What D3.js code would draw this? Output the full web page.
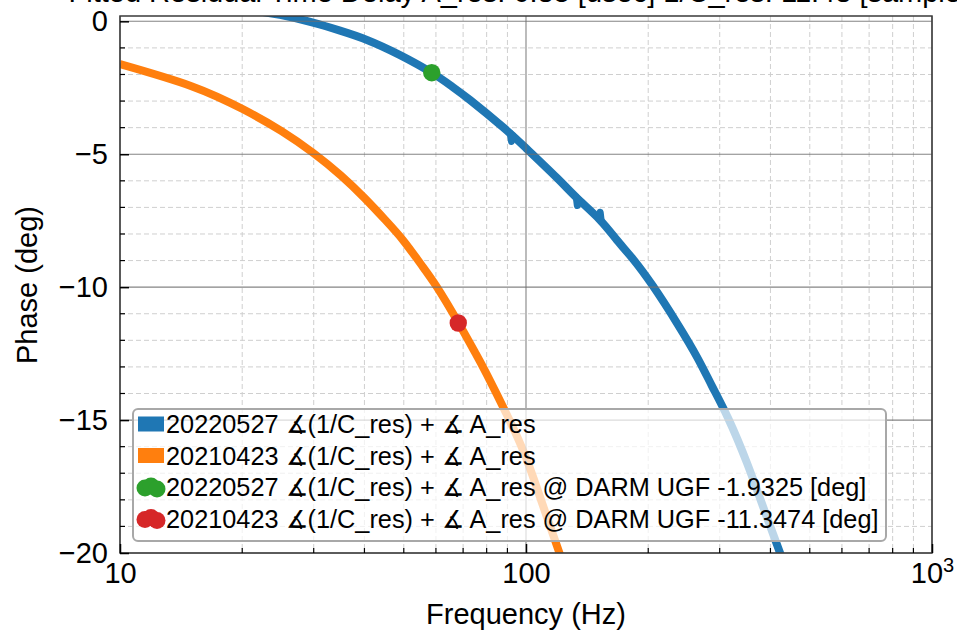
<!DOCTYPE html>
<html>
<head>
<meta charset="utf-8">
<script src="https://cdn.jsdelivr.net/npm/d3@7"></script>
<style>
  html, body { margin: 0; padding: 0; background: #fff; }
  svg { display: block; font-family: "Liberation Sans", Arial, Helvetica, sans-serif; }
</style>
</head>
<body>
<svg id="chart" width="957" height="636"></svg>
<script>
// ---------------- data ----------------
const freqBlue = [21.5, 24.78, 29.88, 34.83, 40.59, 48.95, 58.69, 65.72, 72.8, 87.76, 100,
  119.2, 133.6, 152.1, 167.5, 183.4, 205.5, 235.4, 263.8, 287.2, 314.5, 350.3, 387.9, 422.4, 446.9];
const phaseBlue = [0.39, 0.24, -0.05, -0.35, -0.70, -1.27, -1.94, -2.45, -2.96, -3.98, -4.77,
  -5.89, -6.65, -7.47, -8.23, -8.94, -9.96, -11.35, -12.63, -13.72, -14.92, -16.62, -18.46, -20.0, -21.05];

// small measurement glitches visible on the 20220527 trace
const glitchFreq = [[91.5, 92.1, 92.7], [133.0, 133.8, 134.6], [151.4, 152.3, 153.2]];
const glitchPhase = [[-4.22, -4.52, -4.29], [-6.62, -6.93, -6.70], [-7.43, -7.18, -7.52]];

const freqOrange = [10, 15, 20.1, 25, 29.9, 35, 40.1, 45, 49.9, 55, 60.3, 68.1, 75, 80, 89.6, 99.8, 110, 121.2, 125.5];
const phaseOrange = [-1.61, -2.44, -3.31, -4.13, -4.95, -5.80, -6.66, -7.47, -8.25, -9.12, -9.99, -11.33,
  -12.47, -13.27, -14.78, -16.38, -18.20, -20.05, -20.80];

const ugfFreq = [58.6, 68.1];
const ugfPhase = [-1.9325, -11.3474];

const seriesColors = ["#1f77b4", "#ff7f0e", "#2ca02c", "#d62728"];
const legendLabels = [
  "20220527 \u2221(1/C_res) + \u2221 A_res",
  "20210423 \u2221(1/C_res) + \u2221 A_res",
  "20220527 \u2221(1/C_res) + \u2221 A_res @ DARM UGF -1.9325 [deg]",
  "20210423 \u2221(1/C_res) + \u2221 A_res @ DARM UGF -11.3474 [deg]"
];

const yMajorTicks = [0, -5, -10, -15, -20];
const yMinorTicks = [-1, -2, -3, -4, -6, -7, -8, -9, -11, -12, -13, -14, -16, -17, -18, -19];
const xMajorTicks = [10, 100, 1000];
const xMinorTicks = [20, 30, 40, 50, 60, 70, 80, 90, 200, 300, 400, 500, 600, 700, 800, 900];

const titleText = "Fitted Residual Time Delay  A_res: 6.85 [usec]  1/C_res: 11.48 [samples]";
const xLabel = "Frequency (Hz)";
const yLabel = "Phase (deg)";

// ---------------- layout ----------------
const L = 120, R = 932, T = 16, B = 553;
const svg = d3.select("#chart");

const x = d3.scaleLog().domain([10, 1000]).range([L, R]);
const y = d3.scaleLinear().domain([-20, 0.2]).range([B, T]);

svg.append("defs").append("clipPath").attr("id", "clip")
  .append("rect").attr("x", L).attr("y", T).attr("width", R - L).attr("height", B - T);

// title (mostly cropped off the top, as in the reference)
svg.append("text").attr("x", 526).attr("y", 1.5).attr("text-anchor", "middle")
  .attr("font-size", 29).attr("fill", "#000").text(titleText);

// minor grid (dashed, behind data)
const gMinor = svg.append("g");
gMinor.selectAll("line.yminor").data(yMinorTicks).join("line")
  .attr("x1", L).attr("x2", R).attr("y1", d => y(d)).attr("y2", d => y(d))
  .attr("stroke", "#cfcfcf").attr("stroke-width", 1).attr("stroke-dasharray", "5,3");
gMinor.selectAll("line.xminor").data(xMinorTicks).join("line")
  .attr("y1", T).attr("y2", B).attr("x1", d => x(d)).attr("x2", d => x(d))
  .attr("stroke", "#cfcfcf").attr("stroke-width", 1).attr("stroke-dasharray", "5,3");

// data lines
const smooth = d3.line().x(d => x(d[0])).y(d => y(d[1])).curve(d3.curveNatural);
const straight = d3.line().x(d => x(d[0])).y(d => y(d[1]));
const gData = svg.append("g").attr("clip-path", "url(#clip)");
gData.append("path").datum(d3.zip(freqBlue, phaseBlue)).attr("d", smooth)
  .attr("fill", "none").attr("stroke", seriesColors[0]).attr("stroke-width", 8);
glitchFreq.forEach((fs, i) => {
  gData.append("path").datum(d3.zip(fs, glitchPhase[i])).attr("d", straight)
    .attr("fill", "none").attr("stroke", seriesColors[0]).attr("stroke-width", 7)
    .attr("stroke-linejoin", "round").attr("stroke-linecap", "round");
});
gData.append("path").datum(d3.zip(freqOrange, phaseOrange)).attr("d", smooth)
  .attr("fill", "none").attr("stroke", seriesColors[1]).attr("stroke-width", 8);

// UGF markers
gData.selectAll("circle.ugf").data(d3.zip(ugfFreq, ugfPhase)).join("circle")
  .attr("cx", d => x(d[0])).attr("cy", d => y(d[1])).attr("r", 8.7)
  .attr("fill", (d, i) => seriesColors[2 + i]);

// major grid (solid, drawn over data)
const gMajor = svg.append("g");
gMajor.selectAll("line.ymajor").data(yMajorTicks).join("line")
  .attr("x1", L).attr("x2", R).attr("y1", d => y(d)).attr("y2", d => y(d))
  .attr("stroke", "#6e6e6e").attr("stroke-opacity", 0.85).attr("stroke-width", 1.1);
gMajor.selectAll("line.xmajor").data(xMajorTicks).join("line")
  .attr("y1", T).attr("y2", B).attr("x1", d => x(d)).attr("x2", d => x(d))
  .attr("stroke", "#6e6e6e").attr("stroke-opacity", 0.85).attr("stroke-width", 1.1);

// legend
const lg = svg.append("g");
lg.append("rect").attr("x", 133).attr("y", 409).attr("width", 753).attr("height", 132)
  .attr("rx", 5).attr("ry", 5)
  .attr("fill", "#fff").attr("fill-opacity", 0.7)
  .attr("stroke", "#a8a8a8").attr("stroke-width", 2);
const rowY = [424, 455.5, 487, 518.5];
legendLabels.forEach((lab, i) => {
  const cy = rowY[i];
  if (i < 2) {
    lg.append("rect").attr("x", 138).attr("y", cy - 7.5).attr("width", 26).attr("height", 15)
      .attr("fill", seriesColors[i]);
  } else {
    [[145, 2], [151, 0], [157, 3]].forEach(o => {
      lg.append("circle").attr("cx", o[0]).attr("cy", cy + o[1] - 1).attr("r", 8.5)
        .attr("fill", seriesColors[i]);
    });
  }
  lg.append("text").attr("x", 166).attr("y", cy + 9).attr("font-size", 25.3)
    .attr("fill", "#000").text(lab);
});

// axes frame
svg.append("rect").attr("x", L).attr("y", T).attr("width", R - L).attr("height", B - T)
  .attr("fill", "none").attr("stroke", "#3a3a3a").attr("stroke-width", 1.5);

// y axis ticks (inward)
const yAxis = d3.axisLeft(y).tickValues(yMajorTicks).tickSize(-9).tickPadding(12)
  .tickFormat(d => d < 0 ? "\u2212" + Math.abs(d) : String(d));
const gy = svg.append("g").attr("transform", `translate(${L},0)`).call(yAxis);
gy.select(".domain").remove();
gy.selectAll(".tick line").attr("stroke", "#000").attr("stroke-width", 1.5);
gy.selectAll(".tick text").attr("font-size", 29).attr("fill", "#000")
  .attr("font-family", '"Liberation Sans", Arial, sans-serif');
svg.append("g").selectAll("line").data(yMinorTicks).join("line")
  .attr("x1", L).attr("x2", L + 5).attr("y1", d => y(d)).attr("y2", d => y(d))
  .attr("stroke", "#000").attr("stroke-width", 1.2);

// x axis ticks (inward)
const xAxis = d3.axisBottom(x).tickValues(xMajorTicks).tickSize(-9).tickPadding(9)
  .tickFormat(d => d === 1000 ? "" : String(d));
const gx = svg.append("g").attr("transform", `translate(0,${B})`).call(xAxis);
gx.select(".domain").remove();
gx.selectAll(".tick line").attr("stroke", "#000").attr("stroke-width", 1.5);
gx.selectAll(".tick text").attr("font-size", 29).attr("fill", "#000")
  .attr("font-family", '"Liberation Sans", Arial, sans-serif');
gx.selectAll(".tick").filter(d => d === 1000).select("text")
  .each(function () {
    const t = d3.select(this);
    t.append("tspan").text("10");
    t.append("tspan").attr("font-size", 20).attr("dy", "-0.55em").text("3");
  });
svg.append("g").selectAll("line").data(xMinorTicks).join("line")
  .attr("x1", d => x(d)).attr("x2", d => x(d)).attr("y1", B).attr("y2", B - 5)
  .attr("stroke", "#000").attr("stroke-width", 1.2);

// axis labels
svg.append("text").attr("x", 526).attr("y", 624).attr("text-anchor", "middle")
  .attr("font-size", 29).attr("fill", "#000").text(xLabel);
svg.append("text").attr("transform", "translate(37,285) rotate(-90)").attr("text-anchor", "middle")
  .attr("font-size", 29).attr("fill", "#000").text(yLabel);
</script>
</body>
</html>
